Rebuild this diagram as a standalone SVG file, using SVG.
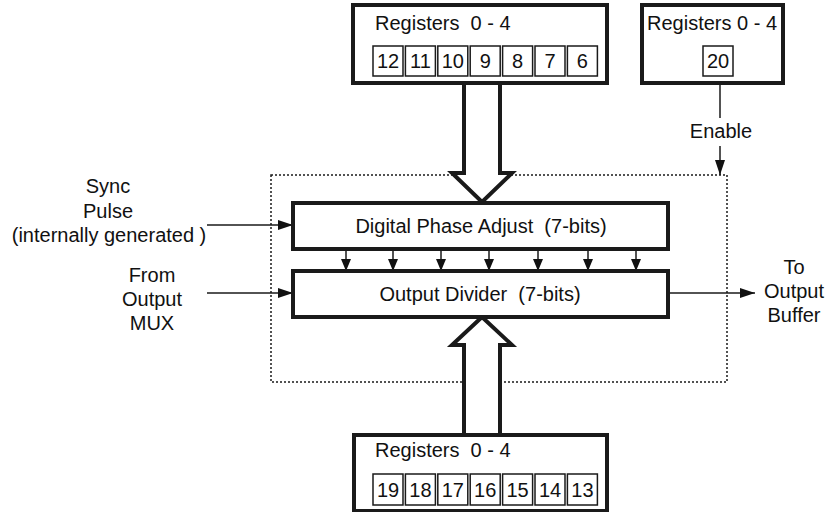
<svg xmlns="http://www.w3.org/2000/svg" width="827" height="512" viewBox="0 0 827 512">
<defs>
<style>
text{font-family:"Liberation Sans",Arial,sans-serif;font-size:20px;fill:#111;white-space:pre}
.c{text-anchor:middle}
.box{fill:#fff;stroke:#1a1a1a;stroke-width:4}
.cell{fill:#fff;stroke:#1a1a1a;stroke-width:1.5}
.ln{fill:none;stroke:#1a1a1a;stroke-width:1.5}
.dot{fill:none;stroke:#1a1a1a;stroke-width:1.5;stroke-dasharray:2,2}
.big{fill:#fff;stroke:#1a1a1a;stroke-width:4;stroke-linejoin:miter}
</style>
<marker id="ah" viewBox="0 0 15 10" refX="15" refY="5" markerWidth="15" markerHeight="10" markerUnits="userSpaceOnUse" orient="auto">
<path d="M0,0 L15,5 L0,10 Z" fill="#111"/>
</marker>
<marker id="as" viewBox="0 0 12 10" refX="12" refY="5" markerWidth="12" markerHeight="10" markerUnits="userSpaceOnUse" orient="auto">
<path d="M0,0 L12,5 L0,10 Z" fill="#111"/>
</marker>
</defs>
<rect width="827" height="512" fill="#fff"/>

<g id="boundary">
<rect class="dot" x="271" y="175" width="456" height="207"/>
</g>

<g id="connectors">
<path class="ln" d="M207,225 H293" marker-end="url(#ah)"/>
<path class="ln" d="M207,293 H293" marker-end="url(#ah)"/>
<path class="ln" d="M668,293 H755" marker-end="url(#ah)"/>
<path class="ln" d="M720,83 V118"/>
<path class="ln" d="M720,146 V175" marker-end="url(#ah)"/>
<path class="ln" d="M346,249 V271" marker-end="url(#as)"/>
<path class="ln" d="M393,249 V271" marker-end="url(#as)"/>
<path class="ln" d="M441,249 V271" marker-end="url(#as)"/>
<path class="ln" d="M489,249 V271" marker-end="url(#as)"/>
<path class="ln" d="M538,249 V271" marker-end="url(#as)"/>
<path class="ln" d="M588,249 V271" marker-end="url(#as)"/>
<path class="ln" d="M636,249 V271" marker-end="url(#as)"/>
<path class="big" d="M464,83 V173 H452 L482,202 L512,173 H500 V83"/>
<path class="big" d="M464,435 V345 H452 L482,317 L512,345 H500 V435"/>
<text class="c" x="721" y="138">Enable</text>
</g>

<g id="regs-top">
<rect class="box" x="353" y="5" width="254" height="78"/>
<text x="375" y="30">Registers  0 - 4</text>
<rect class="cell" x="373" y="46" width="30" height="30"/>
<rect class="cell" x="405.4" y="46" width="30" height="30"/>
<rect class="cell" x="437.8" y="46" width="30" height="30"/>
<rect class="cell" x="470.2" y="46" width="30" height="30"/>
<rect class="cell" x="502.6" y="46" width="30" height="30"/>
<rect class="cell" x="535" y="46" width="30" height="30"/>
<rect class="cell" x="567.4" y="46" width="30" height="30"/>
<text class="c" x="388" y="68">12</text>
<text class="c" x="420.4" y="68">11</text>
<text class="c" x="452.8" y="68">10</text>
<text class="c" x="485.2" y="68">9</text>
<text class="c" x="517.6" y="68">8</text>
<text class="c" x="550" y="68">7</text>
<text class="c" x="582.4" y="68">6</text>
</g>

<g id="regs-enable">
<rect class="box" x="642" y="5" width="141" height="78"/>
<text x="647" y="30">Registers 0 - 4</text>
<rect class="cell" x="703" y="46" width="30" height="30"/>
<text class="c" x="718" y="68">20</text>
</g>

<g id="phase-adjust">
<rect class="box" x="293" y="203" width="375" height="46"/>
<text class="c" x="481" y="233">Digital Phase Adjust  (7-bits)</text>
</g>

<g id="output-divider">
<rect class="box" x="293" y="271" width="375" height="46"/>
<text class="c" x="480" y="301">Output Divider  (7-bits)</text>
</g>

<g id="regs-bottom">
<rect class="box" x="354" y="435" width="253" height="76"/>
<text x="375" y="457">Registers  0 - 4</text>
<rect class="cell" x="373" y="474" width="30" height="31"/>
<rect class="cell" x="405.4" y="474" width="30" height="31"/>
<rect class="cell" x="437.8" y="474" width="30" height="31"/>
<rect class="cell" x="470.2" y="474" width="30" height="31"/>
<rect class="cell" x="502.6" y="474" width="30" height="31"/>
<rect class="cell" x="535" y="474" width="30" height="31"/>
<rect class="cell" x="567.4" y="474" width="30" height="31"/>
<text class="c" x="388" y="497">19</text>
<text class="c" x="420.4" y="497">18</text>
<text class="c" x="452.8" y="497">17</text>
<text class="c" x="485.2" y="497">16</text>
<text class="c" x="517.6" y="497">15</text>
<text class="c" x="550" y="497">14</text>
<text class="c" x="582.4" y="497">13</text>
</g>

<g id="sync-label">
<text class="c" x="108" y="193">Sync</text>
<text class="c" x="108" y="218">Pulse</text>
<text class="c" x="109" y="242">(internally generated )</text>
</g>

<g id="mux-label">
<text class="c" x="152" y="282">From</text>
<text class="c" x="152" y="306">Output</text>
<text class="c" x="152" y="330">MUX</text>
</g>

<g id="buffer-label">
<text class="c" x="794" y="274">To</text>
<text class="c" x="794" y="298">Output</text>
<text class="c" x="794" y="322">Buffer</text>
</g>
</svg>
